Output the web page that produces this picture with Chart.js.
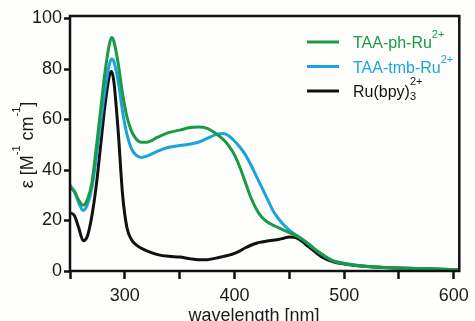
<!DOCTYPE html>
<html>
<head>
<meta charset="utf-8">
<script src="https://cdn.jsdelivr.net/npm/chart.js@4/dist/chart.umd.min.js"></script>
<style>
  html, body { margin: 0; padding: 0; background: #fefefc; }
  #wrap { width: 475px; height: 321px; }
</style>
</head>
<body>
<div id="wrap"><canvas id="myChart"></canvas></div>
<script>
// wavelength in nm
var wavelength = [250, 254, 258, 262, 266, 270, 274, 278, 282, 286, 288, 290, 294, 298, 302, 306, 310, 315, 320,
  330, 340, 350, 360, 367, 375, 383, 390, 395, 400, 405, 410, 415, 420, 425, 430, 435, 440, 445, 450, 455,
  460, 465, 470, 475, 480, 490, 500, 520, 550, 580, 605];

// epsilon values
var taaPh = [33, 31.5, 28, 26, 28.5, 35, 49, 64, 79, 90, 92.5, 91, 82, 70, 61, 55.5, 52.5, 51, 51,
  53, 54.8, 55.8, 56.8, 57, 56.5, 54.5, 52, 49.5, 46, 41, 35, 29, 24.5, 21.3, 19.4, 18.2, 17.2, 16.2, 15.2, 14.2,
  13, 11.5, 9.8, 8, 6.5, 4, 3, 1.9, 1.2, 0.8, 0.5];
var taaTmb = [34, 31.5, 27, 24, 26.5, 33, 45, 59, 72, 82, 84, 83, 75, 63, 54, 48.5, 46, 45, 45.5,
  47.5, 49, 49.7, 50.3, 51, 52.5, 54, 54.5, 53.5, 51.5, 49, 46, 42, 37.5, 33, 28.5, 24, 20.8, 18.2, 16.2, 14.6,
  13.2, 11.6, 9.8, 8, 6.5, 4, 3, 1.9, 1.2, 0.8, 0.5];
var ruBpy = [23, 22, 17, 12, 14, 22, 34, 50, 66, 77.5, 79, 75, 55, 30, 17, 12.5, 10.5, 9, 8,
  6.5, 5.8, 5.5, 4.8, 4.5, 4.5, 5.1, 5.8, 6.3, 7, 8, 9.2, 10.2, 11, 11.5, 11.9, 12.2, 12.5, 13, 13.5, 13.4,
  12.3, 10.5, 8.8, 7, 5.5, 3.6, 2.8, 1.8, 1.2, 0.8, 0.5];

var xTicks = [250, 300, 350, 400, 450, 500, 550, 600];
var yTicks = [0, 20, 40, 60, 80, 100];

var fontFam = '"Liberation Sans", Arial, sans-serif';
Chart.defaults.font.family = fontFam;
Chart.defaults.color = '#1a1a1a';

function points(ys) {
  return wavelength.map(function(x, i) { return { x: x, y: ys[i] }; });
}

// draws a run of text pieces, some raised or lowered (superscripts/subscripts)
function drawPieces(ctx, x, y, pieces, color) {
  ctx.fillStyle = color;
  ctx.textBaseline = 'alphabetic';
  ctx.textAlign = 'left';
  pieces.forEach(function(p) {
    ctx.font = p.size + 'px ' + fontFam;
    ctx.fillText(p.t, x, y + (p.dy || 0));
    if (!p.noAdvance) x = x + ctx.measureText(p.t).width;
  });
}

function piecesWidth(ctx, pieces) {
  var w = 0;
  pieces.forEach(function(p) {
    ctx.font = p.size + 'px ' + fontFam;
    w += ctx.measureText(p.t).width;
  });
  return w;
}

var legendRows = [
  { color: '#1a9a45', pieces: [{ t: 'TAA-ph-Ru', size: 16 }, { t: '2+', size: 11, dy: -10 }] },
  { color: '#1aa3dc', pieces: [{ t: 'TAA-tmb-Ru', size: 16 }, { t: '2+', size: 11, dy: -10 }] },
  { color: '#111111', pieces: [{ t: 'Ru(bpy)', size: 16 }, { t: '3', size: 11, dy: 3, noAdvance: true }, { t: '2+', size: 11, dy: -12 }] }
];

var extras = {
  id: 'extras',
  afterDatasetsDraw: function(chart) {
    var ctx = chart.ctx, a = chart.chartArea;
    ctx.save();
    // frame
    ctx.strokeStyle = '#111';
    ctx.lineWidth = 2.5;
    ctx.strokeRect(a.left, a.top, a.right - a.left, a.bottom - a.top);

    // legend
    legendRows.forEach(function(r, i) {
      var ly = 42 + i * 24.5;
      ctx.strokeStyle = r.color;
      ctx.lineWidth = 3;
      ctx.beginPath();
      ctx.moveTo(307, ly);
      ctx.lineTo(339, ly);
      ctx.stroke();
      drawPieces(ctx, 353, ly + 6, r.pieces, r.color);
    });

    // x title
    ctx.font = '18px ' + fontFam;
    ctx.fillStyle = '#1a1a1a';
    ctx.textAlign = 'center';
    ctx.textBaseline = 'alphabetic';
    ctx.fillText('wavelength [nm]', 254, 321);

    // y title
    var yt = [{ t: 'ε [M', size: 18 }, { t: '-1', size: 11, dy: -13 }, { t: ' cm', size: 18 },
      { t: '-1', size: 11, dy: -13 }, { t: ']', size: 18 }];
    ctx.translate(33, 145);
    ctx.rotate(-Math.PI / 2);
    drawPieces(ctx, -piecesWidth(ctx, yt) / 2, 0, yt, '#1a1a1a');
    ctx.restore();
  }
};

var data = {
  datasets: [
    { label: 'TAA-ph-Ru2+', data: points(taaPh), borderColor: '#1a9a45' },
    { label: 'TAA-tmb-Ru2+', data: points(taaTmb), borderColor: '#1aa3dc' },
    { label: 'Ru(bpy)32+', data: points(ruBpy), borderColor: '#111111' }
  ]
};

var options = {
  responsive: true,
  maintainAspectRatio: false,
  animation: false,
  layout: { padding: { top: 16, right: 12, left: 0, bottom: 0 } },
  elements: {
    point: { radius: 0 },
    line: { borderWidth: 3, tension: 0.4, cubicInterpolationMode: 'monotone', fill: false }
  },
  plugins: { legend: { display: false }, tooltip: { enabled: false } },
  scales: {
    x: {
      type: 'linear',
      min: 250,
      max: 605,
      afterBuildTicks: function(scale) {
        scale.ticks = xTicks.map(function(v) { return { value: v }; });
      },
      afterFit: function(scale) { scale.height = 50; },
      border: { display: false },
      grid: { drawOnChartArea: false, tickLength: 8, tickWidth: 2.5, tickColor: '#111' },
      ticks: {
        padding: 6,
        maxRotation: 0,
        autoSkip: false,
        font: { size: 18 },
        callback: function(v) { return v % 100 === 0 && v !== 250 ? v : ''; }
      }
    },
    y: {
      min: 0,
      max: 101,
      afterBuildTicks: function(scale) {
        scale.ticks = yTicks.map(function(v) { return { value: v }; });
      },
      afterFit: function(scale) { scale.width = 70; },
      border: { display: false },
      grid: { drawOnChartArea: false, tickLength: 6, tickWidth: 2.5, tickColor: '#111' },
      ticks: { padding: 2, font: { size: 18 } }
    }
  }
};

document.addEventListener("DOMContentLoaded", function(event) {
  var ctx = document.getElementById('myChart').getContext('2d');
  var myLineChart = new Chart(ctx, {
    type: 'line',
    data: data,
    options: options,
    plugins: [extras]
  });
});
</script>
</body>
</html>
